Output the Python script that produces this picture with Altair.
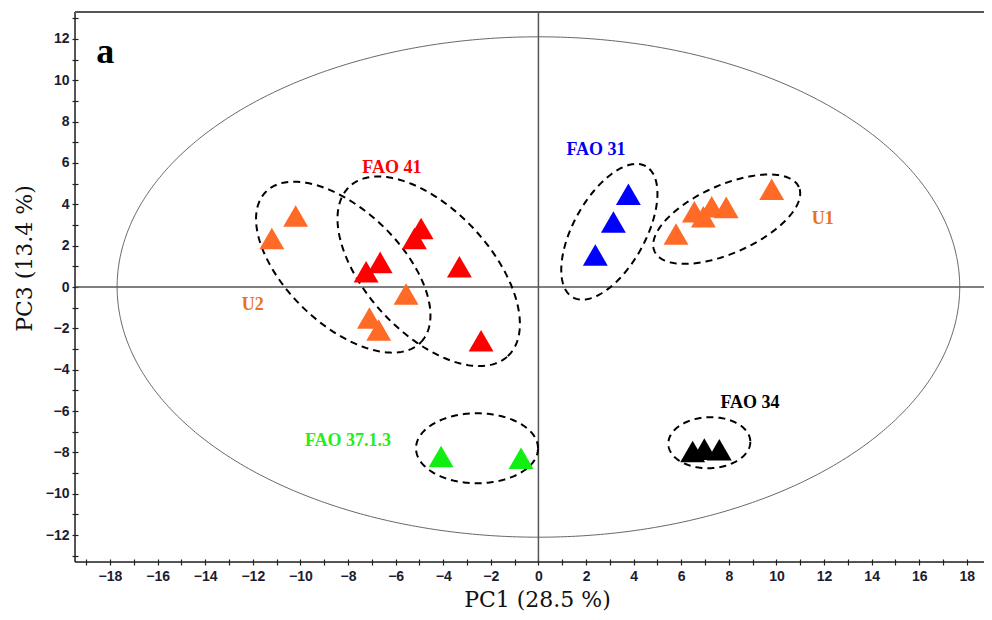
import altair as alt
import numpy as np
import pandas as pd

# ---------------- data ----------------
u2_x = [-10.2, -11.2, -5.56, -7.1, -6.71]
u2_y = [3.43, 2.35, -0.34, -1.5, -2.08]
fao41_x = [-4.93, -5.21, -6.65, -7.24, -3.32, -2.41]
fao41_y = [2.83, 2.35, 1.19, 0.74, 0.98, -2.6]
fao31_x = [3.78, 3.15, 2.39]
fao31_y = [4.49, 3.14, 1.55]
u1_x = [9.8, 7.89, 7.28, 6.55, 6.93, 5.78]
u1_y = [4.73, 3.85, 3.88, 3.64, 3.4, 2.56]
fao37_x = [-4.09, -0.73]
fao37_y = [-8.2, -8.28]
fao34_x = [6.48, 6.97, 7.6]
fao34_y = [-7.96, -7.84, -7.87]

group_names = ["U2", "FAO 41", "FAO 31", "U1", "FAO 37.1.3", "FAO 34"]
group_colors = ["#FF6A26", "#FF0000", "#0000FF", "#FF6A26", "#11EE11", "#000000"]
label_colors = ["#E8731A", "#FF0000", "#0000EE", "#E8731A", "#22EE22", "#000000"]
label_x = [-12.0, -6.16, 2.42, 11.95, -8.0, 8.89]
label_y = [-0.87, 5.75, 6.62, 3.29, -7.45, -5.61]

# group ellipses: centre (data), semi-axes (px), angle (deg, ccw)
ell_cx = [-8.2, -4.61, 2.98, 7.91, -2.58, 7.18]
ell_cy = [0.96, 0.76, 2.67, 3.28, -7.8, -7.53]
ell_a = [108, 116, 75, 79, 61, 41]
ell_b = [57, 62, 36, 34, 35, 25.5]
ell_ang = [-44, -47, 61, 24, 0, 2]

# confidence ellipse (data units)
big_rx, big_ry = 17.7, 12.1

x_major = list(range(-18, 19, 2))
x_minor = list(range(-19, 18, 2))
y_major = list(range(-12, 13, 2))
y_minor = list(range(-13, 14, 2))

# ---------------- layout ----------------
XDOM = [-19.47, 18.72]
YDOM = [-13.3, 13.3]
W, H = 909, 550
PX_X = W / (XDOM[1] - XDOM[0])
PX_Y = H / (YDOM[1] - YDOM[0])

xs = [u2_x, fao41_x, fao31_x, u1_x, fao37_x, fao34_x]
ys = [u2_y, fao41_y, fao31_y, u1_y, fao37_y, fao34_y]
rows = []
for g, c, xv, yv in zip(group_names, group_colors, xs, ys):
    for a, b in zip(xv, yv):
        rows.append({"group": g, "color": c, "x": a, "y": b})
pts = pd.DataFrame(rows)

def ellipse(name, cx, cy, a_px, b_px, ang, n=241):
    t = np.linspace(0, 2 * np.pi, n)
    th = np.radians(ang)
    dx = a_px * np.cos(t) * np.cos(th) - b_px * np.sin(t) * np.sin(th)
    dy = a_px * np.cos(t) * np.sin(th) + b_px * np.sin(t) * np.cos(th)
    return pd.DataFrame({"name": name, "i": np.arange(n),
                         "x": cx + dx / PX_X, "y": cy + dy / PX_Y})

ells = pd.concat([ellipse(g, *p) for g, p in
                  zip(group_names, zip(ell_cx, ell_cy, ell_a, ell_b, ell_ang))])
big = ellipse("big", 0, 0, big_rx * PX_X, big_ry * PX_Y, 0, 721)

labels = pd.DataFrame({"label": group_names, "x": label_x, "y": label_y,
                       "color": label_colors})

xscale = alt.Scale(domain=XDOM, nice=False, zero=False)
yscale = alt.Scale(domain=YDOM, nice=False, zero=False)

tick_style = dict(offset=-3, tickSize=6, domain=False, grid=False,
                  tickColor="#222222", tickWidth=1.2)
label_style = dict(labelFont="Liberation Sans", labelFontWeight="bold",
                   labelFontSize=14, labelColor="#1c1c30", labelFlush=False,
                   labelOverlap=False)
title_style = dict(titleFont="DejaVu Serif", titleFontSize=22,
                   titleFontWeight="normal", titleColor="#111111",
                   titleBaseline="middle", titleAlign="center")

xaxis = alt.Axis(values=x_major, labelPadding=11, labelBaseline="middle",
                 title="PC1 (28.5 %)", titleX=462, titleY=40,
                 **tick_style, **label_style, **title_style)
yaxis = alt.Axis(values=y_major, labelPadding=3,
                 title="PC3 (13.4 %)", titleX=-54, titleY=246, titleAngle=270,
                 **tick_style, **label_style, **title_style)
xaxis_minor = alt.Axis(values=x_minor, labels=False, title=None, orient="bottom",
                       **tick_style)
yaxis_minor = alt.Axis(values=y_minor, labels=False, title=None, orient="left",
                       **tick_style)

zero = pd.DataFrame({"v": [0]})
vline = alt.Chart(zero).mark_rule(color="#555555", strokeWidth=1.5).encode(
    x=alt.X("v:Q", scale=xscale, axis=xaxis))
hline = alt.Chart(zero).mark_rule(color="#555555", strokeWidth=1.5).encode(
    y=alt.Y("v:Q", scale=yscale, axis=yaxis))
vminor = alt.Chart(zero).mark_rule(opacity=0).encode(
    x=alt.X("v:Q", scale=xscale, axis=xaxis_minor))
hminor = alt.Chart(zero).mark_rule(opacity=0).encode(
    y=alt.Y("v:Q", scale=yscale, axis=yaxis_minor))

# frame lines (left, bottom, top; right edge lies beyond the picture)
frame_left = alt.Chart(zero).mark_rule(color="#222222", strokeWidth=1.5).encode(
    x=alt.datum(XDOM[0], scale=xscale, axis=None))
frame_bottom = alt.Chart(zero).mark_rule(color="#222222", strokeWidth=1.5).encode(
    y=alt.datum(YDOM[0], scale=yscale, axis=None))
frame_top = alt.Chart(zero).mark_rule(color="#555555", strokeWidth=2).encode(
    y=alt.datum(YDOM[1], scale=yscale, axis=None))

big_line = alt.Chart(big).mark_line(color="#666666", strokeWidth=1).encode(
    x=alt.X("x:Q", scale=xscale, axis=None), y=alt.Y("y:Q", scale=yscale, axis=None),
    order="i:Q")

dash_lines = alt.Chart(ells).mark_line(color="#000000", strokeWidth=2,
                                       strokeDash=[7, 5]).encode(
    x=alt.X("x:Q", scale=xscale, axis=None), y=alt.Y("y:Q", scale=yscale, axis=None),
    detail="name:N", order="i:Q")

points = alt.Chart(pts).mark_point(shape="triangle-up", filled=True, size=620,
                                   opacity=1, strokeWidth=0).encode(
    x=alt.X("x:Q", scale=xscale, axis=None), y=alt.Y("y:Q", scale=yscale, axis=None),
    color=alt.Color("color:N", scale=None))

texts = alt.Chart(labels).mark_text(font="Liberation Serif", fontWeight="bold",
                                    fontSize=18, align="center",
                                    baseline="middle").encode(
    x=alt.X("x:Q", scale=xscale, axis=None), y=alt.Y("y:Q", scale=yscale, axis=None),
    text="label:N", color=alt.Color("color:N", scale=None))

panel = pd.DataFrame({"t": ["a"], "x": [-18.2], "y": [10.85]})
panel_text = alt.Chart(panel).mark_text(font="Liberation Serif", fontWeight="bold",
                                        fontSize=36, align="center",
                                        baseline="alphabetic", color="#000000").encode(
    x=alt.X("x:Q", scale=xscale, axis=None), y=alt.Y("y:Q", scale=yscale, axis=None),
    text="t:N")

chart = alt.layer(vline, hline, vminor, hminor, frame_left, frame_bottom, frame_top,
                  big_line, dash_lines, points, texts, panel_text).resolve_scale(
    x="shared", y="shared").resolve_axis(x="independent", y="independent").properties(
    width=W, height=H,
    autosize=alt.AutoSizeParams(type="none"),
    padding={"left": 67, "top": 4, "right": 0, "bottom": 50},
).configure_view(stroke=None).configure(background="white")

chart.save("out.html", embed_options={"renderer": "svg", "actions": False})
